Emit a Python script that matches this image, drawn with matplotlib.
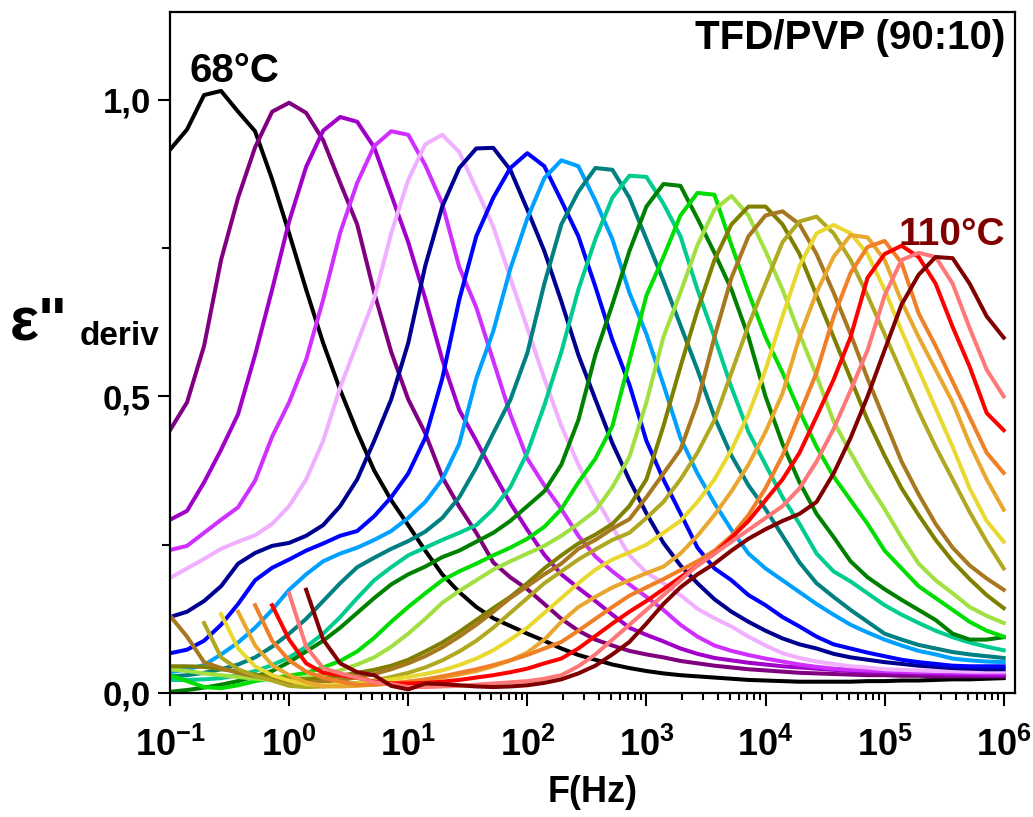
import numpy as np
import matplotlib
matplotlib.use('Agg')
import matplotlib.pyplot as plt
from matplotlib.ticker import NullFormatter

plt.rcParams['font.family'] = ['Liberation Sans', 'DejaVu Sans']
plt.rcParams['font.weight'] = 'bold'
plt.rcParams['mathtext.fontset'] = 'custom'
plt.rcParams['mathtext.rm'] = 'Liberation Sans:bold'
plt.rcParams['mathtext.bf'] = 'Liberation Sans:bold'
plt.rcParams['mathtext.default'] = 'bf'

nan = np.nan

# measured frequencies: 7 points per decade, 0.1 Hz .. 1 MHz
freq = np.logspace(-1, 6, 50)

temps = [68, 70, 72, 74, 76, 78, 80, 82, 84, 86, 88,
         90, 92, 94, 96, 98, 100, 102, 104, 106, 108, 110]

colors = ['#000000', '#800080', '#A000C8', '#D030FF', '#F0B0FF', '#000090',
          '#0000FF', '#00A0FF', '#008080', '#00CC90', '#008000', '#00DD00',
          '#A0E040', '#808000', '#A87820', '#B0A820', '#E8D830', '#E8A830',
          '#F08028', '#FF0000', '#FF7878', '#800000']

eps_68 = [0.916, 0.950, 1.008, 1.015, 0.980, 0.947, 0.866, 0.775, 0.680, 0.590,
          0.511, 0.440, 0.375, 0.325, 0.283, 0.240, 0.200, 0.170, 0.145, 0.126,
          0.113, 0.100, 0.088, 0.075, 0.064, 0.056, 0.048, 0.042, 0.037, 0.033,
          0.030, 0.028, 0.026, 0.024, 0.022, 0.021, 0.020, 0.019, 0.019, 0.019,
          0.019, 0.020, 0.020, 0.021, 0.021, 0.022, 0.023, 0.023, 0.024, 0.025]
eps_70 = [0.443, 0.490, 0.585, 0.730, 0.835, 0.920, 0.980, 0.995, 0.978, 0.932,
          0.860, 0.790, 0.675, 0.575, 0.495, 0.438, 0.364, 0.314, 0.270, 0.220,
          0.195, 0.175, 0.150, 0.125, 0.105, 0.090, 0.080, 0.071, 0.065, 0.060,
          0.054, 0.050, 0.046, 0.043, 0.040, 0.038, 0.036, 0.034, 0.033, 0.032,
          0.031, 0.030, 0.030, 0.029, 0.029, 0.028, 0.028, 0.028, 0.028, 0.028]
eps_72 = [0.292, 0.307, 0.355, 0.410, 0.470, 0.570, 0.680, 0.795, 0.887, 0.948,
          0.971, 0.963, 0.920, 0.840, 0.760, 0.665, 0.562, 0.477, 0.425, 0.371,
          0.320, 0.275, 0.233, 0.200, 0.177, 0.155, 0.132, 0.110, 0.098, 0.087,
          0.075, 0.066, 0.059, 0.055, 0.051, 0.048, 0.045, 0.043, 0.041, 0.039,
          0.037, 0.036, 0.035, 0.034, 0.033, 0.032, 0.031, 0.031, 0.030, 0.030]
eps_74 = [0.241, 0.248, 0.270, 0.292, 0.313, 0.358, 0.432, 0.490, 0.562, 0.663,
          0.776, 0.860, 0.922, 0.947, 0.941, 0.890, 0.825, 0.718, 0.650, 0.560,
          0.470, 0.395, 0.350, 0.310, 0.265, 0.230, 0.205, 0.183, 0.162, 0.140,
          0.115, 0.095, 0.080, 0.071, 0.064, 0.058, 0.053, 0.048, 0.044, 0.041,
          0.039, 0.038, 0.037, 0.036, 0.035, 0.035, 0.034, 0.034, 0.033, 0.033]
eps_76 = [0.194, 0.210, 0.226, 0.243, 0.255, 0.266, 0.285, 0.315, 0.360, 0.425,
          0.515, 0.590, 0.665, 0.775, 0.865, 0.925, 0.941, 0.912, 0.850, 0.786,
          0.700, 0.615, 0.530, 0.450, 0.385, 0.330, 0.280, 0.232, 0.203, 0.185,
          0.165, 0.142, 0.126, 0.112, 0.095, 0.080, 0.067, 0.059, 0.053, 0.049,
          0.045, 0.043, 0.040, 0.039, 0.038, 0.037, 0.037, 0.036, 0.036, 0.036]
eps_78 = [0.128, 0.137, 0.155, 0.180, 0.218, 0.236, 0.248, 0.253, 0.265, 0.283,
          0.315, 0.360, 0.425, 0.495, 0.590, 0.720, 0.820, 0.885, 0.918, 0.919,
          0.882, 0.815, 0.745, 0.660, 0.570, 0.495, 0.421, 0.359, 0.303, 0.253,
          0.215, 0.185, 0.158, 0.137, 0.120, 0.105, 0.092, 0.082, 0.075, 0.066,
          0.060, 0.056, 0.052, 0.049, 0.046, 0.044, 0.042, 0.041, 0.040, 0.040]
eps_80 = [0.067, 0.073, 0.088, 0.115, 0.150, 0.190, 0.211, 0.225, 0.240, 0.252,
          0.265, 0.273, 0.298, 0.330, 0.370, 0.430, 0.530, 0.663, 0.770, 0.835,
          0.885, 0.910, 0.888, 0.830, 0.770, 0.685, 0.595, 0.520, 0.425, 0.360,
          0.303, 0.245, 0.210, 0.190, 0.165, 0.148, 0.128, 0.112, 0.095, 0.082,
          0.075, 0.068, 0.062, 0.056, 0.052, 0.049, 0.046, 0.045, 0.045, 0.045]
eps_82 = [0.035, 0.040, 0.047, 0.065, 0.085, 0.110, 0.140, 0.174, 0.200, 0.222,
          0.235, 0.245, 0.258, 0.273, 0.295, 0.322, 0.360, 0.420, 0.530, 0.610,
          0.715, 0.800, 0.868, 0.898, 0.888, 0.830, 0.765, 0.675, 0.605, 0.520,
          0.430, 0.370, 0.320, 0.275, 0.235, 0.210, 0.190, 0.170, 0.150, 0.132,
          0.115, 0.102, 0.090, 0.080, 0.071, 0.065, 0.058, 0.055, 0.053, 0.052]
eps_84 = [0.028, 0.030, 0.034, 0.040, 0.048, 0.060, 0.078, 0.100, 0.125, 0.155,
          0.185, 0.212, 0.228, 0.243, 0.256, 0.272, 0.295, 0.330, 0.380, 0.438,
          0.494, 0.573, 0.690, 0.790, 0.845, 0.885, 0.882, 0.835, 0.765, 0.695,
          0.620, 0.545, 0.465, 0.400, 0.350, 0.310, 0.265, 0.220, 0.185, 0.162,
          0.140, 0.120, 0.100, 0.090, 0.081, 0.075, 0.069, 0.065, 0.062, 0.059]
eps_86 = [0.022, 0.022, 0.023, 0.025, 0.030, 0.037, 0.047, 0.060, 0.078, 0.100,
          0.128, 0.160, 0.190, 0.212, 0.232, 0.245, 0.258, 0.270, 0.283, 0.310,
          0.347, 0.405, 0.485, 0.575, 0.680, 0.765, 0.835, 0.872, 0.870, 0.825,
          0.770, 0.680, 0.600, 0.515, 0.440, 0.385, 0.330, 0.285, 0.235, 0.205,
          0.188, 0.168, 0.148, 0.132, 0.118, 0.105, 0.094, 0.085, 0.078, 0.072]
eps_88 = [0.002, 0.005, 0.009, 0.014, 0.020, 0.028, 0.037, 0.052, 0.070, 0.088,
          0.110, 0.135, 0.160, 0.183, 0.200, 0.213, 0.229, 0.240, 0.255, 0.270,
          0.290, 0.315, 0.340, 0.385, 0.460, 0.570, 0.655, 0.745, 0.820, 0.858,
          0.855, 0.800, 0.742, 0.680, 0.600, 0.500, 0.420, 0.355, 0.302, 0.263,
          0.222, 0.195, 0.175, 0.157, 0.140, 0.123, 0.100, 0.090, 0.090, 0.094]
eps_90 = [0.030, 0.020, 0.010, 0.008, 0.013, 0.020, 0.025, 0.029, 0.034, 0.043,
          0.054, 0.070, 0.093, 0.120, 0.145, 0.168, 0.190, 0.205, 0.218, 0.232,
          0.245, 0.260, 0.280, 0.310, 0.355, 0.395, 0.450, 0.560, 0.670, 0.735,
          0.805, 0.843, 0.840, 0.755, 0.675, 0.600, 0.540, 0.475, 0.415, 0.365,
          0.325, 0.285, 0.240, 0.210, 0.180, 0.160, 0.140, 0.120, 0.105, 0.095]
eps_92 = [0.040, 0.037, 0.033, 0.030, 0.027, 0.024, 0.022, 0.022, 0.026, 0.032,
          0.038, 0.048, 0.060, 0.078, 0.100, 0.125, 0.152, 0.172, 0.190, 0.208,
          0.222, 0.235, 0.248, 0.265, 0.285, 0.307, 0.347, 0.398, 0.490, 0.600,
          0.675, 0.755, 0.815, 0.838, 0.805, 0.745, 0.680, 0.605, 0.535, 0.458,
          0.405, 0.355, 0.310, 0.262, 0.218, 0.190, 0.168, 0.145, 0.130, 0.118]
eps_94 = [0.045, 0.045, 0.044, 0.040, 0.036, 0.031, 0.027, 0.024, 0.023, 0.025,
          0.029, 0.034, 0.039, 0.046, 0.056, 0.070, 0.085, 0.103, 0.123, 0.143,
          0.162, 0.185, 0.210, 0.232, 0.252, 0.267, 0.285, 0.315, 0.360, 0.450,
          0.550, 0.645, 0.730, 0.790, 0.820, 0.820, 0.790, 0.740, 0.670, 0.600,
          0.530, 0.460, 0.400, 0.345, 0.300, 0.258, 0.222, 0.192, 0.165, 0.143]
eps_96 = [0.130, 0.095, 0.052, 0.042, 0.034, 0.028, 0.023, 0.018, 0.017, 0.019,
          0.022, 0.026, 0.032, 0.040, 0.050, 0.062, 0.077, 0.095, 0.115, 0.137,
          0.160, 0.180, 0.200, 0.218, 0.243, 0.258, 0.277, 0.293, 0.330, 0.370,
          0.410, 0.490, 0.600, 0.700, 0.770, 0.805, 0.812, 0.790, 0.740, 0.675,
          0.605, 0.530, 0.460, 0.390, 0.335, 0.285, 0.245, 0.215, 0.193, 0.174]
eps_98 = [nan, nan, 0.118, 0.060, 0.040, 0.029, 0.021, 0.012, 0.010, 0.011,
          0.014, 0.017, 0.021, 0.027, 0.034, 0.043, 0.055, 0.070, 0.088, 0.110,
          0.135, 0.160, 0.185, 0.205, 0.225, 0.242, 0.258, 0.270, 0.295, 0.322,
          0.360, 0.405, 0.460, 0.540, 0.620, 0.690, 0.760, 0.795, 0.803, 0.775,
          0.730, 0.670, 0.605, 0.540, 0.475, 0.415, 0.360, 0.305, 0.255, 0.210]
eps_100 = [nan, nan, nan, 0.133, 0.075, 0.045, 0.030, 0.021, 0.015, 0.013,
           0.014, 0.016, 0.019, 0.023, 0.027, 0.032, 0.038, 0.047, 0.058, 0.072,
           0.090, 0.110, 0.135, 0.160, 0.185, 0.208, 0.225, 0.237, 0.250, 0.270,
           0.290, 0.322, 0.360, 0.410, 0.470, 0.545, 0.635, 0.720, 0.775, 0.789,
           0.775, 0.740, 0.680, 0.610, 0.545, 0.480, 0.415, 0.345, 0.290, 0.255]
eps_102 = [nan, nan, nan, nan, 0.137, 0.080, 0.047, 0.030, 0.018, 0.011,
           0.011, 0.012, 0.014, 0.016, 0.019, 0.022, 0.026, 0.031, 0.037, 0.045,
           0.055, 0.068, 0.090, 0.120, 0.145, 0.162, 0.178, 0.190, 0.202, 0.213,
           0.235, 0.265, 0.300, 0.340, 0.385, 0.440, 0.505, 0.600, 0.675, 0.735,
           0.772, 0.768, 0.730, 0.660, 0.600, 0.545, 0.490, 0.420, 0.360, 0.309]
eps_104 = [nan, nan, nan, nan, nan, 0.148, 0.088, 0.055, 0.036, 0.026,
           0.019, 0.014, 0.014, 0.016, 0.019, 0.023, 0.028, 0.034, 0.040, 0.047,
           0.055, 0.064, 0.075, 0.086, 0.105, 0.125, 0.145, 0.164, 0.178, 0.192,
           0.207, 0.222, 0.240, 0.265, 0.300, 0.345, 0.400, 0.470, 0.540, 0.634,
           0.708, 0.752, 0.762, 0.725, 0.640, 0.585, 0.525, 0.465, 0.405, 0.371]
eps_106 = [nan, nan, nan, nan, nan, nan, 0.148, 0.090, 0.050, 0.034,
           0.030, 0.026, 0.019, 0.016, 0.016, 0.017, 0.019, 0.022, 0.026, 0.030,
           0.035, 0.041, 0.050, 0.058, 0.075, 0.096, 0.117, 0.137, 0.155, 0.175,
           0.195, 0.215, 0.235, 0.262, 0.290, 0.325, 0.360, 0.405, 0.466, 0.528,
           0.600, 0.700, 0.740, 0.754, 0.735, 0.690, 0.617, 0.550, 0.472, 0.443]
eps_108 = [nan, nan, nan, nan, nan, nan, nan, 0.168, 0.078, 0.042,
           0.033, 0.026, 0.018, 0.015, 0.010, 0.010, 0.011, 0.012, 0.014, 0.016,
           0.018, 0.020, 0.024, 0.030, 0.045, 0.065, 0.090, 0.115, 0.140, 0.165,
           0.190, 0.215, 0.235, 0.255, 0.275, 0.295, 0.315, 0.345, 0.390, 0.445,
           0.510, 0.578, 0.670, 0.730, 0.742, 0.735, 0.690, 0.615, 0.545, 0.500]
eps_110 = [nan, nan, nan, nan, nan, nan, nan, nan, 0.174, 0.090,
           0.050, 0.035, 0.030, 0.012, 0.006, 0.016, 0.015, 0.013, 0.011, 0.010,
           0.011, 0.013, 0.017, 0.023, 0.033, 0.046, 0.065, 0.086, 0.117, 0.150,
           0.178, 0.200, 0.218, 0.240, 0.260, 0.276, 0.290, 0.302, 0.322, 0.370,
           0.430, 0.500, 0.578, 0.655, 0.705, 0.735, 0.733, 0.690, 0.635, 0.599]

curves = [eps_68, eps_70, eps_72, eps_74, eps_76, eps_78, eps_80, eps_82,
          eps_84, eps_86, eps_88, eps_90, eps_92, eps_94, eps_96, eps_98,
          eps_100, eps_102, eps_104, eps_106, eps_108, eps_110]

xtick_vals = [1e-1, 1e0, 1e1, 1e2, 1e3, 1e4, 1e5, 1e6]
xtick_labels = [r'$10^{-1}$', r'$10^{0}$', r'$10^{1}$', r'$10^{2}$',
                r'$10^{3}$', r'$10^{4}$', r'$10^{5}$', r'$10^{6}$']
ytick_vals = [0.0, 0.5, 1.0]
ytick_labels = ['0,0', '0,5', '1,0']

fig = plt.figure(figsize=(10.33, 8.17), dpi=100)
ax = fig.add_axes([0.1646, 0.1518, 0.8180, 0.8335])

for T, eps, c in zip(temps, curves, colors):
    ax.plot(freq, eps, color=c, lw=2.9, label=f'{T}°C')

ax.set_xscale('log')
ax.set_xlim(0.1, 1.245e6)
ax.set_ylim(0, 1.148)

ax.set_xticks(xtick_vals, labels=xtick_labels)
ax.xaxis.set_minor_formatter(NullFormatter())
ax.set_yticks(ytick_vals, labels=ytick_labels)
ax.set_yticks([0.25, 0.75], minor=True)

for s in ax.spines.values():
    s.set_linewidth(1.6)
ax.tick_params(axis='both', which='major', direction='out', length=9, width=1.5)
ax.tick_params(axis='y', which='major', labelsize=25, pad=5)
ax.tick_params(axis='x', which='major', labelsize=26, pad=16)
ax.tick_params(axis='x', which='minor', direction='out', length=5, width=1.5)
ax.tick_params(axis='y', which='minor', direction='out', length=6, width=1.5)

ax.set_xlabel('F(Hz)', fontsize=26, fontweight='bold', labelpad=8)

fig.text(10 / 1033, 1 - 340 / 817, 'ε"', fontsize=44, fontweight='bold',
         va='baseline', ha='left')
fig.text(80 / 1033, 1 - 345 / 817, 'deriv', fontsize=24, fontweight='bold',
         va='baseline', ha='left')

ax.text(0.145, 1.03, '68°C', fontsize=29, fontweight='bold', color='black',
        va='baseline', ha='left')
ax.text(1.3e5, 0.755, '110°C', fontsize=28, fontweight='bold', color='#800000',
        va='baseline', ha='left')
ax.text(0.988, 0.946, 'TFD/PVP (90:10)', transform=ax.transAxes, fontsize=29,
        fontweight='bold', va='baseline', ha='right')

fig.savefig('out.png', dpi=100)
